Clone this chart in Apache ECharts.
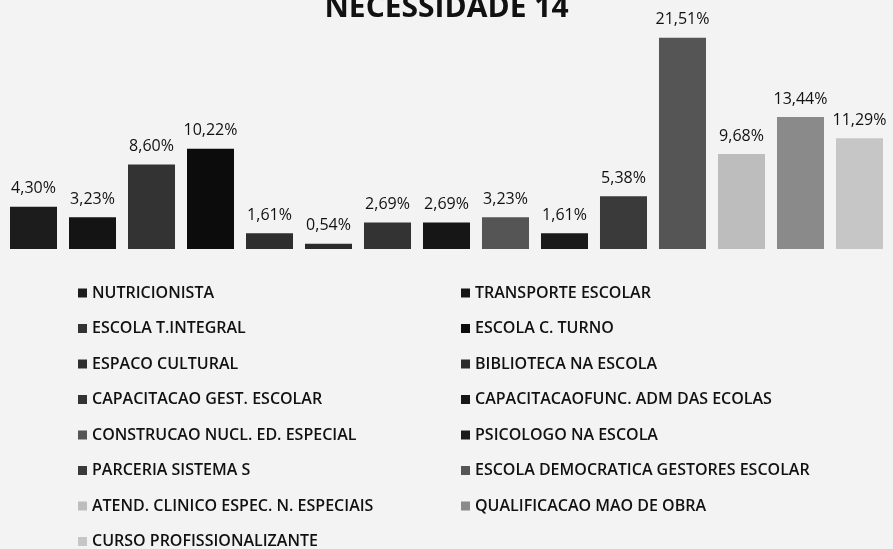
<!DOCTYPE html>
<html>
<head>
<meta charset="utf-8">
<script src="https://cdn.jsdelivr.net/npm/echarts@6/dist/echarts.min.js"></script>
<style>
  html, body { margin: 0; padding: 0; background: #f3f3f3; }
  #chart { width: 893px; height: 549px; }
</style>
</head>
<body>
<div id="chart"></div>
<script>
// necessidades, na ordem das barras
const names = [
  'NUTRICIONISTA',
  'TRANSPORTE ESCOLAR',
  'ESCOLA T.INTEGRAL',
  'ESCOLA C. TURNO',
  'ESPACO CULTURAL',
  'BIBLIOTECA NA ESCOLA',
  'CAPACITACAO GEST. ESCOLAR',
  'CAPACITACAOFUNC. ADM DAS ECOLAS',
  'CONSTRUCAO NUCL. ED. ESPECIAL',
  'PSICOLOGO NA ESCOLA',
  'PARCERIA SISTEMA S',
  'ESCOLA DEMOCRATICA GESTORES ESCOLAR',
  'ATEND. CLINICO ESPEC. N. ESPECIAIS',
  'QUALIFICACAO MAO DE OBRA',
  'CURSO PROFISSIONALIZANTE'
]
const percents = [4.30, 3.23, 8.60, 10.22, 1.61, 0.54, 2.69, 2.69, 3.23, 1.61, 5.38, 21.51, 9.68, 13.44, 11.29]
const colors = ['#1c1c1c', '#141414', '#333333', '#0c0c0c', '#2e2e2e', '#2a2a2a', '#333333', '#161616',
  '#555555', '#1a1a1a', '#3a3a3a', '#555555', '#bdbdbd', '#8a8a8a', '#c6c6c6']

const chart = echarts.init(document.getElementById('chart'))

let series = names.map((name, i) => {
  return {
    name: name,
    type: 'bar',
    data: [percents[i]],
    barGap: '25.5%',
    barCategoryGap: '0%',
    itemStyle: { color: colors[i] },
    label: {
      show: true,
      position: 'top',
      distance: 10,
      color: '#111',
      fontFamily: 'Open Sans',
      fontSize: 16,
      formatter: p => p.value.toFixed(2).replace('.', ',') + '%'
    }
  }
})

const legendText = {
  color: '#111',
  fontFamily: 'Open Sans',
  fontSize: 16,
  fontWeight: 600
}

const option = {
  backgroundColor: '#f3f3f3',
  animation: false,
  title: {
    text: 'NECESSIDADE 14',
    left: 'center',
    top: -12,
    textStyle: { fontFamily: 'Open Sans', fontSize: 30, fontWeight: 'bold', color: '#111' }
  },
  legend: [
    {
      orient: 'vertical',
      left: 73,
      top: 280,
      height: 320,
      itemWidth: 9,
      itemHeight: 9,
      itemGap: 19.5,
      icon: 'rect',
      data: names.filter((n, i) => i % 2 === 0),
      textStyle: legendText
    },
    {
      orient: 'vertical',
      left: 456,
      top: 280,
      height: 320,
      itemWidth: 9,
      itemHeight: 9,
      itemGap: 19.5,
      icon: 'rect',
      data: names.filter((n, i) => i % 2 === 1),
      textStyle: legendText
    }
  ],
  grid: {
    left: 10,
    right: 10,
    top: 33,
    bottom: 300
  },
  xAxis: {
    type: 'category',
    data: ['NECESSIDADE 14'],
    show: false
  },
  yAxis: {
    type: 'value',
    min: 0,
    max: 22,
    show: false
  },
  series: series
}

chart.setOption(option)
</script>
</body>
</html>
